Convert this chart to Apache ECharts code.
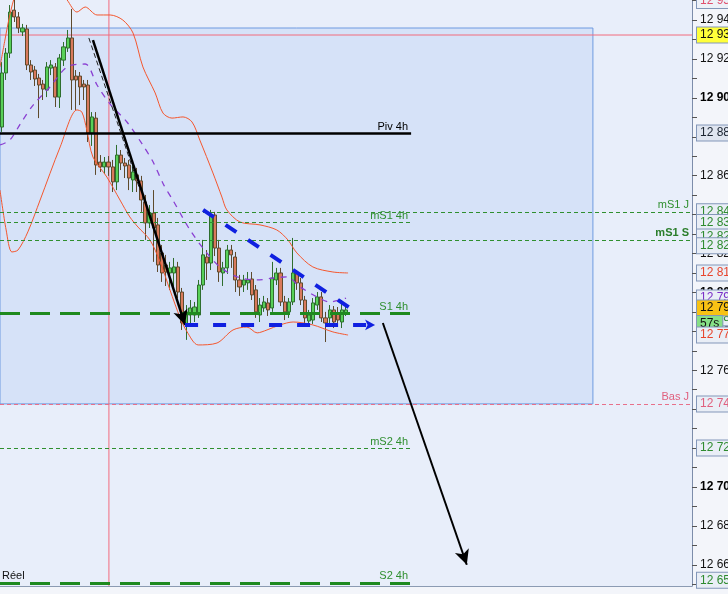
<!DOCTYPE html>
<html><head><meta charset="utf-8">
<script src="https://cdn.jsdelivr.net/npm/echarts@6/dist/echarts.min.js"></script>
<style>html,body{margin:0;padding:0;background:#f3f5fa;}#c{width:728px;height:594px;}</style>
</head><body><div id="c"></div>
<script>
// ---------- data ----------
const slotCount = 169; // time slots on the x axis (candles + empty future)
const opens = [12885.0,12912.8,12923.0,12945.1,12941.6,12933.9,12935.4,12916.9,12914.3,12910.2,12907.1,12904.0,12915.3,12915.9,12900.4,12919.4,12925.6,12930.8,12911.2,12911.2,12907.1,12906.6,12881.9,12889.6,12867.0,12864.5,12867.0,12864.5,12856.8,12870.6,12866.5,12865.5,12857.8,12860.4,12857.3,12846.5,12835.7,12840.8,12834.7,12820.3,12814.1,12810.0,12810.0,12813.1,12800.2,12783.3,12788.4,12788.4,12788.4,12803.8,12818.2,12815.1,12839.8,12822.8,12810.0,12812.6,12821.8,12818.2,12806.4,12803.8,12804.9,12806.9,12801.3,12788.4,12792.0,12794.6,12792.0,12806.4,12810.0,12795.1,12790.0,12795.1,12810.0,12804.9,12796.1,12785.3,12785.8,12793.5,12797.7,12786.9,12786.9,12791.0,12789.4,12784.8,12789.4];
const closes = [12912.8,12923.0,12944.1,12941.6,12935.9,12935.9,12916.9,12913.3,12909.7,12906.6,12904.5,12915.9,12916.9,12900.4,12920.5,12926.2,12930.8,12909.2,12909.2,12905.6,12905.6,12881.9,12890.2,12865.5,12864.5,12867.0,12864.5,12856.8,12870.6,12866.5,12865.0,12858.8,12861.9,12857.3,12847.5,12835.7,12840.8,12833.1,12814.1,12810.0,12810.5,12812.6,12813.1,12800.2,12784.3,12790.0,12792.0,12792.5,12803.8,12819.3,12815.1,12839.8,12822.8,12810.5,12812.6,12821.8,12819.3,12806.4,12802.8,12806.4,12806.4,12798.7,12790.0,12793.5,12795.1,12791.0,12807.4,12810.0,12795.1,12790.0,12795.1,12810.0,12804.9,12796.1,12786.9,12788.4,12794.6,12797.7,12786.9,12784.3,12791.0,12784.8,12785.8,12791.0,12791.0];
const highs = [12918.4,12925.6,12947.7,12952.9,12944.1,12938.0,12937.5,12919.4,12916.4,12912.3,12909.2,12918.4,12919.4,12917.9,12922.5,12928.7,12934.9,12945.7,12914.3,12913.3,12909.2,12909.2,12892.7,12892.7,12870.6,12869.6,12870.1,12868.1,12875.8,12873.2,12869.1,12868.1,12865.5,12864.0,12859.9,12850.1,12844.9,12852.6,12838.3,12824.4,12819.3,12815.7,12817.7,12815.7,12802.3,12793.5,12796.1,12795.1,12806.4,12827.0,12821.8,12842.4,12841.4,12827.0,12815.7,12824.4,12824.4,12820.8,12809.0,12809.0,12810.5,12810.5,12803.8,12797.1,12798.2,12797.1,12815.7,12812.6,12812.6,12798.2,12797.1,12828.0,12811.5,12807.4,12798.2,12791.0,12797.1,12800.2,12800.2,12790.0,12793.5,12793.0,12792.5,12796.1,12793.5];
const lows = [12882.5,12909.2,12920.5,12939.0,12933.3,12931.8,12914.3,12909.2,12906.1,12889.6,12898.9,12900.4,12911.7,12895.3,12894.8,12916.4,12923.6,12893.8,12893.8,12896.3,12898.9,12877.3,12875.3,12860.4,12861.9,12860.9,12859.9,12851.6,12852.6,12862.9,12858.8,12852.6,12851.6,12851.6,12841.4,12827.0,12833.1,12815.7,12810.5,12805.4,12803.3,12801.3,12800.2,12797.1,12780.7,12775.6,12783.3,12784.8,12786.9,12801.3,12806.4,12811.5,12818.7,12805.4,12803.3,12809.5,12812.6,12800.2,12798.2,12800.2,12801.3,12796.1,12786.9,12784.8,12790.0,12787.9,12790.0,12803.8,12793.0,12785.8,12786.9,12793.5,12801.3,12793.5,12783.3,12782.8,12783.8,12791.0,12784.8,12774.5,12783.8,12781.7,12782.8,12781.7,12787.9];

// Bollinger-type envelope and its middle average: [slot, price]
const upperBand = [[-0.5,12915.9],[0.7,12929.7],[1.9,12942.6],[3.2,12952.9],[4.4,12958.0],[9.3,12960.6],[14.2,12955.4],[15.9,12950.3],[18.3,12944.1],[20.3,12946.7],[23.2,12942.6],[26.4,12942.6],[29.5,12940.0],[32,12933.3],[34.4,12915.9],[37.4,12902.5],[39.3,12892.2],[41.5,12889.6],[44.2,12890.2],[46.4,12887.6],[48.3,12878.3],[51.5,12861.4],[53.7,12849.0],[54.9,12842.4],[58.1,12836.2],[63,12834.7],[67.1,12832.1],[69.8,12827.0],[72,12820.3],[75.9,12813.1],[80.8,12810.5],[84.5,12810.0]];
const lowerBand = [[-0.5,12852.6],[1,12832.1],[2.4,12820.8],[3.9,12821.8],[6.3,12831.1],[9.3,12847.5],[14.2,12874.8],[18.3,12893.8],[19.5,12892.7],[20.7,12883.5],[22.2,12869.6],[25.6,12859.3],[28.8,12847.5],[31.2,12838.8],[33.2,12833.6],[36.1,12827.0],[38.6,12815.7],[41,12801.3],[43.5,12786.9],[45.2,12779.7],[47.9,12773.0],[52.5,12774.0],[56.4,12780.7],[59.8,12782.2],[62.3,12779.2],[64.7,12780.7],[67.9,12783.3],[71.1,12784.8],[75.9,12783.3],[80.8,12779.7],[84.5,12778.1]];
const midAverage = [[-0.5,12875.8],[1.9,12878.3],[4.6,12887.1],[7.6,12896.3],[11.7,12905.6],[15.9,12915.9],[20.3,12917.4],[23.2,12906.6],[26.4,12896.8],[30.5,12887.6],[34.2,12876.3],[36.9,12867.0],[39.5,12855.2],[41.7,12847.5],[45.9,12832.1],[50,12820.3],[53.2,12813.1],[57.4,12808.0],[62.3,12806.4],[66.2,12807.4],[69.6,12808.0],[72.8,12802.8],[76.9,12797.7],[80.1,12795.1],[84,12797.1]];

// horizontal levels
const pivot4h = 12881.9, mS1Day = 12841.4, mS1H4 = 12836.2, mS1Week = 12827.0;
const s1H4 = 12789.4, lowDay = 12742.7, mS2H4 = 12720.0, s2H4 = 12650.7;
const crossPrice = 12932.3, rangeTop = 12935.9;
const levelEndSlot = 99.9, rangeEndSlot = 144.3, crossSlot = 26.1;
const yMin = 12649.1, yMax = 12950.3;

// drawn studies [slot, price]
const trendArrow = [[22.2,12929.7],[44.7,12783.3]];
const trendDashed = [[21.2,12930.8],[33.7,12852.6]];
const projectionArrow = [[93.0,12784.3],[113.5,12660.0]];
const wedgeTop = [[49.1,12842.4],[85.7,12791.0]];
const wedgeBase = [[44.7,12783.3],[91.1,12783.3]];

// right-axis price tags
const priceTags = [
  {p:12950.0, t:'12 950', c:'#e0506e', bg:'#edf1f8'},
  {p:12932.3, t:'12 932', c:'#111', bg:'#ffff3a'},
  {p:12881.9, t:'12 882', c:'#1a2330', bg:'#dfe5f0'},
  {p:12841.4, t:'12 841', c:'#2e8b2e', bg:'#e9eef6'},
  {p:12836.0, t:'12 836', c:'#2e8b2e', bg:'#e9eef6'},
  {p:12828.5, t:'12 828', c:'#2e8b2e', bg:'#e9eef6'},
  {p:12824.0, t:'12 827', c:'#2e8b2e', bg:'#e9eef6'},
  {p:12810.0, t:'12 810', c:'#e8442c', bg:'#e9eef6'},
  {p:12797.1, t:'12 797', c:'#7a2fc8', bg:'#e9eef6'},
  {p:12787.0, t:'12 789', c:'#2e8b2e', bg:'#e9eef6'},
  {p:12792.0, t:'12 791', c:'#111', bg:'#f8c214'},
  {p:12784.0, t:'57s', c:'#111', bg:'#86e086'},
  {p:12778.1, t:'12 778', c:'#e8442c', bg:'#e9eef6'},
  {p:12742.7, t:'12 742', c:'#e0607e', bg:'#e9eef6'},
  {p:12720.0, t:'12 720', c:'#2e8b2e', bg:'#e9eef6'},
  {p:12652.0, t:'12 652', c:'#2e8b2e', bg:'#e9eef6'}
];

const yLabelValues = [12660,12680,12700,12720,12740,12760,12780,12800,12820,12840,12860,12880,12900,12920,12940];
const yTickValues = [12650,12660,12670,12680,12690,12700,12710,12720,12730,12740,12750,12760,12770,12780,12790,12800,12810,12820,12830,12840,12850,12860,12870,12880,12890,12900,12910,12920,12930,12940,12950];

// ---------- chart ----------
const FONT = '"Liberation Sans", Arial, sans-serif';
const PINK = '#f26b7d';
const slots = Array.from({length: slotCount}, (_, i) => String(i));
const candles = opens.map((o, i) => [o, closes[i], lows[i], highs[i]]);
const xFirst = -0.5, xLast = slotCount - 0.5;

function hLine(x1, x2, price, lineStyle, label) {
  return [{coord:[x1, price], lineStyle, label: label || {show:false}}, {coord:[x2, price]}];
}
function nameLabel(text, color, extra) {
  return Object.assign({show:true, position:'insideEndTop', formatter:text, color, fontSize:11, fontFamily:FONT, distance:[3,1]}, extra || {});
}
const thinGreen = {color:'#2f8f2f', width:1, type:[4,3]};
const thickGreen = {color:'#1f8a1f', width:3, type:[20,10]};
const hidden = {color:'rgba(0,0,0,0)', width:1, type:'solid'};

const levelLines = [
  hLine(xFirst, levelEndSlot, pivot4h, {color:'#000', width:2.5, type:'solid'}, nameLabel('Piv 4h', '#000')),
  hLine(xFirst, xLast, mS1Day, thinGreen, nameLabel('mS1 J', '#2f8f2f')),
  hLine(xFirst, levelEndSlot, mS1H4, thinGreen, nameLabel('mS1 4h', '#2f8f2f')),
  hLine(xFirst, xLast, mS1Week, thinGreen, nameLabel('mS1 S', '#2a7d2a', {fontWeight:'bold'})),
  hLine(xFirst, levelEndSlot, s1H4, thickGreen, nameLabel('S1 4h', '#2f8f2f')),
  hLine(xFirst, xLast, lowDay, {color:'#e8708a', width:1, type:[4,3]}, nameLabel('Bas J', '#e0607e')),
  hLine(xFirst, levelEndSlot, mS2H4, thinGreen, nameLabel('mS2 4h', '#2f8f2f')),
  hLine(xFirst, levelEndSlot, s2H4, thickGreen, nameLabel('S2 4h', '#2f8f2f')),
  hLine(xFirst, levelEndSlot, s2H4, hidden, {show:true, position:'insideStartTop', formatter:'Réel', color:'#111', fontSize:11, fontFamily:FONT, distance:[2,1]})
];

function seg(pts, lineStyle, endSymbol, endSize) {
  return [{coord:pts[0], lineStyle, symbol:'none', label:{show:false}},
          {coord:pts[1], symbol:endSymbol || 'none', symbolSize:endSize || 0}];
}
const studies = [
  seg(trendDashed, {color:'#222', width:1, type:[5,3]}),
  seg(trendArrow, {color:'#000', width:2.5, type:'solid'}, 'arrow', [11,15]),
  seg(projectionArrow, {color:'#000', width:2, type:'solid'}, 'arrow', [11,15]),
  seg(wedgeTop, {color:'#1020e0', width:4, type:[13,14]}),
  seg(wedgeBase, {color:'#1020e0', width:4, type:[13,15]}, 'arrow', [8,10])
];

const tagLines = priceTags.map(tg => hLine(xFirst, xLast, tg.p, hidden, {
  show:true, position:'end', distance:5, formatter: tg.t, color: tg.c, backgroundColor: tg.bg,
  borderColor:'#8397b9', borderWidth:1, padding:[2,3,1,3], fontSize:12, fontFamily:FONT
}));

function plainLine(data, color) {
  return {type:'line', xAxisIndex:1, data, showSymbol:false, silent:true, z:2, clip:true,
          color, lineStyle:{color, width:1, type:'solid', opacity:1}, emphasis:{disabled:true}};
}

const option = {
  animation:false,
  backgroundColor:'#f3f5fa',
  grid:{left:0, right:36, top:0, bottom:8, show:true, backgroundColor:'#e8eefa', borderWidth:0,
        containLabel:false, outerBoundsMode:'none'},
  xAxis:[
    {type:'category', data:slots, boundaryGap:true, axisLine:{show:true, onZero:false, lineStyle:{color:'#8c9bb3'}},
     axisTick:{show:false}, axisLabel:{show:false}, splitLine:{show:false}},
    {type:'value', min:xFirst, max:xLast, show:false, axisLine:{onZero:false}}
  ],
  yAxis:{type:'value', position:'right', min:yMin, max:yMax,
    axisLine:{show:true, onZero:false, lineStyle:{color:'#7d8daa'}},
    axisTick:{show:true, inside:false, length:5, lineStyle:{color:'#555'}, customValues:yTickValues},
    axisLabel:{customValues:yLabelValues, margin:8, color:'#111', fontSize:12, fontFamily:FONT,
      formatter: v => { const s = '12 ' + String(Math.round(v)).slice(2); return (Math.round(v) % 100 === 0) ? '{b|' + s + '}' : s; },
      rich:{b:{fontWeight:'bold', fontSize:12, color:'#000', fontFamily:FONT}}},
    splitLine:{show:false}},
  series:[
    {type:'line', xAxisIndex:1, data:[[-10,12800]], showSymbol:false, silent:true, z:1,
     markArea:{silent:true, itemStyle:{color:'#d6e2f8', opacity:1, borderColor:'#6e9ae0', borderWidth:1},
       data:[[{coord:[xFirst, rangeTop]}, {coord:[rangeEndSlot, lowDay]}]]}},
    plainLine([[xFirst, crossPrice],[xLast, crossPrice]], PINK),
    plainLine([[crossSlot, yMin],[crossSlot, yMax]], PINK),
    {type:'line', xAxisIndex:1, data:[[-10,12800]], showSymbol:false, silent:true, z:2,
     markLine:{silent:true, symbol:['none','none'], animation:false, data:levelLines}},
    {type:'candlestick', xAxisIndex:0, data:candles, barWidth:3.6, z:3, silent:true,
     itemStyle:{color:'#58d058', color0:'#d97a5c', borderColor:'#2e6e2e', borderColor0:'#5e4a2c', borderWidth:1}},
    {type:'line', xAxisIndex:1, data:upperBand, smooth:0.3, showSymbol:false, silent:true, z:4,
     lineStyle:{color:'#f4572e', width:1}},
    {type:'line', xAxisIndex:1, data:lowerBand, smooth:0.3, showSymbol:false, silent:true, z:4,
     lineStyle:{color:'#f4572e', width:1}},
    {type:'line', xAxisIndex:1, data:midAverage, smooth:0.3, showSymbol:false, silent:true, z:4,
     lineStyle:{color:'#8a3fd2', width:1.3, type:[6,6]}},
    {type:'line', xAxisIndex:1, data:[[-10,12800]], showSymbol:false, silent:true, z:6,
     markLine:{silent:true, symbol:['none','none'], animation:false, data:studies}},
    {type:'line', xAxisIndex:1, data:[[-10,12800]], showSymbol:false, silent:true, z:7,
     markLine:{silent:true, symbol:['none','none'], animation:false, data:tagLines}}
  ]
};
const chart = echarts.init(document.getElementById('c'));
chart.setOption(option);
</script></body></html>
